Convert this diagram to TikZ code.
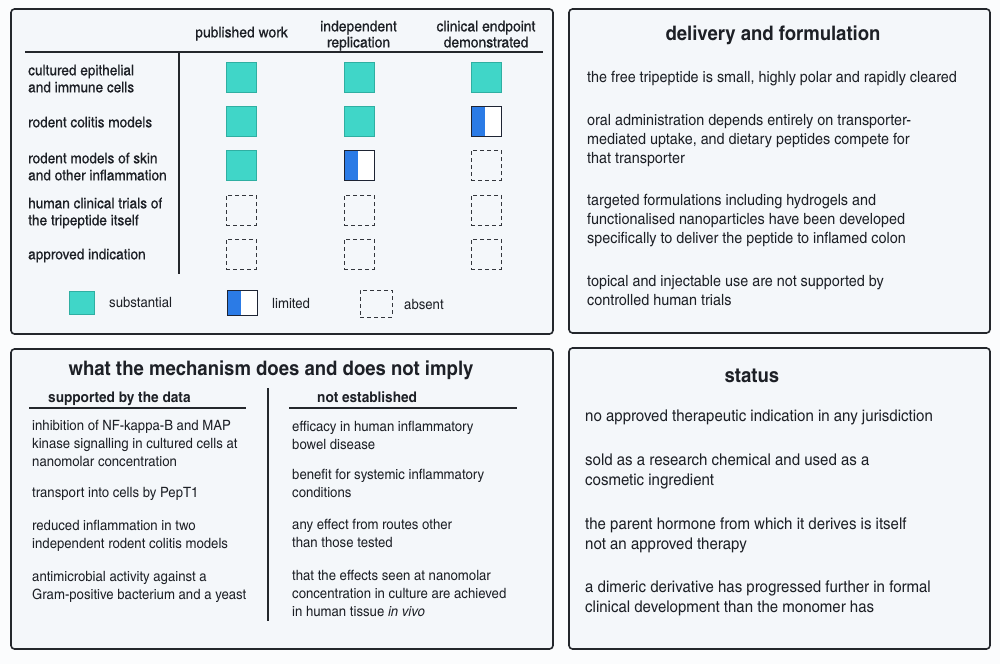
\documentclass[tikz,border=0pt]{standalone}
\usepackage{fontspec}
\setmainfont{texgyreheroscn}[Extension=.otf,UprightFont=*-regular,BoldFont=*-bold,ItalicFont=*-italic,BoldItalicFont=*-bolditalic,FakeStretch=1.13]
\newfontfamily\medfont{texgyreheroscn}[Extension=.otf,UprightFont=*-regular,BoldFont=*-bold,FakeStretch=1.13,FakeBold=0.6]
\usetikzlibrary{calc}
\definecolor{panelfill}{HTML}{F4F7FA}
\definecolor{pagebg}{HTML}{FBFCFD}
\definecolor{panelline}{HTML}{24272C}
\definecolor{txtcol}{HTML}{1D2026}
\definecolor{subfill}{HTML}{40D6C8}
\definecolor{subline}{HTML}{2FAFA2}
\definecolor{limblue}{HTML}{2B7BE6}
\definecolor{limline}{HTML}{1E2433}
\definecolor{absline}{HTML}{33363C}
\tikzset{
  panel/.style={draw=panelline, line width=1.6pt, fill=panelfill, rounded corners=3.5pt},
  rulel/.style={draw=panelline, line width=1.1pt},
  subbox/.style={draw=subline, fill=subfill, line width=0.8pt, minimum width=30pt, minimum height=30pt, inner sep=0pt},
  limbox/.style={draw=limline, fill=white, line width=1pt, minimum width=30pt, minimum height=30pt, inner sep=0pt,
    path picture={\fill[limblue] (path picture bounding box.south west) rectangle ($(path picture bounding box.north west)!0.45!(path picture bounding box.north east)$);}},
  absbox/.style={draw=absline, line width=1pt, dash pattern=on 4pt off 3pt, minimum width=30pt, minimum height=30pt, inner sep=0pt},
  bodyA/.style={font=\fontsize{15.5}{19}\selectfont, align=left, anchor=north west, inner sep=0pt, text=txtcol},
  bodyB/.style={font=\fontsize{16.2}{20.5}\selectfont, align=left, anchor=north west, inner sep=0pt, text=txtcol},
  bodyC/.style={font=\fontsize{14.2}{17.7}\selectfont, align=left, anchor=north west, inner sep=0pt, text=txtcol},
  rowlab/.style={font=\medfont\fontsize{14.7}{17}\selectfont, align=left, anchor=north west, inner sep=0pt, text=txtcol},
  colhead/.style={font=\medfont\fontsize{15}{16}\selectfont, align=center, anchor=north, inner sep=0pt, text=txtcol},
  titl/.style={font=\bfseries\fontsize{20}{24}\selectfont, anchor=base, inner sep=0pt, text=txtcol},
  subhead/.style={font=\bfseries\fontsize{14.7}{18}\selectfont, anchor=base west, inner sep=0pt, text=txtcol},
  legtext/.style={font=\fontsize{14.2}{16}\selectfont, anchor=base west, inner sep=0pt, text=txtcol},
}
\begin{document}
\begin{tikzpicture}[x=1pt,y=-1pt]
\useasboundingbox[fill=pagebg] (0,0) rectangle (1000,664);
% panels
\draw[panel] (11,9) rectangle (553,334);
\draw[panel] (569,9) rectangle (990,333);
\draw[panel] (11,349) rectangle (553,649);
\draw[panel] (569,348) rectangle (990,649);

% ---- table panel ----
\node[colhead] (h1) at (241.5,26) {\strut published work};
\node[colhead] (h2) at (358.5,20) {\strut independent\\replication};
\node[colhead] (h3) at (486,20) {\strut clinical endpoint\\demonstrated};
\draw[rulel] (25,52) -- (543,52);
\draw[rulel] (179,52) -- (179,274);

\node[rowlab] (r1) at (28,63.2) {\strut cultured epithelial\\and immune cells};
\node[rowlab] (r2) at (28,115.2) {\strut rodent colitis models};
\node[rowlab] (r3) at (28,151.2) {\strut rodent models of skin\\and other inflammation};
\node[rowlab] (r4) at (28,196.2) {\strut human clinical trials of\\the tripeptide itself};
\node[rowlab] (r5) at (28,247.2) {\strut approved indication};

\node[subbox] (c11) at (241,77) {};
\node[subbox] (c12) at (359,77) {};
\node[subbox] (c13) at (486,77) {};
\node[subbox] (c21) at (241,121) {};
\node[subbox] (c22) at (359,121) {};
\node[limbox] (c23) at (486,121) {};
\node[subbox] (c31) at (241,165) {};
\node[limbox] (c32) at (359,165) {};
\node[absbox] (c33) at (486,165) {};
\node[absbox] (c41) at (241,210) {};
\node[absbox] (c42) at (359,210) {};
\node[absbox] (c43) at (486,210) {};
\node[absbox] (c51) at (241,254) {};
\node[absbox] (c52) at (359,254) {};
\node[absbox] (c53) at (486,254) {};

% legend
\node[subbox, minimum width=25pt, minimum height=23pt] (l1) at (81.5,302.5) {};
\node[legtext] (l1t) at (109,307.4) {substantial};
\node[limbox, minimum width=30pt, minimum height=25pt] (l2) at (242,302.5) {};
\node[legtext] (l2t) at (272,308.2) {limited};
\node[absbox, minimum width=32pt, minimum height=27pt] (l3) at (376,303.5) {};
\node[legtext] (l3t) at (404,309.2) {absent};

% ---- delivery panel ----
\node[titl] (t1) at (773,40) {delivery and formulation};
\node[bodyA] (d1) at (587,68.9) {\strut the free tripeptide is small, highly polar and rapidly cleared};
\node[bodyA] (d2) at (587,112) {\strut oral administration depends entirely on transporter-\\mediated uptake, and dietary peptides compete for\\that transporter};
\node[bodyA] (d3) at (587,192) {\strut targeted formulations including hydrogels and\\functionalised nanoparticles have been developed\\specifically to deliver the peptide to inflamed colon};
\node[bodyA] (d4) at (587,273) {\strut topical and injectable use are not supported by\\controlled human trials};

% ---- mechanism panel ----
\node[titl] (t2) at (271,375) {what the mechanism does and does not imply};
\node[subhead] (s1) at (48,402.5) {supported by the data};
\node[subhead] (s2) at (317,402.5) {not established};
\draw[rulel] (29,408) -- (246,408);
\draw[rulel] (289,408) -- (517,408);
\draw[rulel] (268,388) -- (268,621);
\node[bodyC] (m1) at (32,418.2) {\strut inhibition of NF-kappa-B and MAP\\kinase signalling in cultured cells at\\nanomolar concentration};
\node[bodyC] (m2) at (32,485.2) {\strut transport into cells by PepT1};
\node[bodyC] (m3) at (32,518.4) {\strut reduced inflammation in two\\independent rodent colitis models};
\node[bodyC] (m4) at (32,569.2) {\strut antimicrobial activity against a\\Gram-positive bacterium and a yeast};
\node[bodyC] (n1) at (292,419) {\strut efficacy in human inflammatory\\bowel disease};
\node[bodyC] (n2) at (292,467.2) {\strut benefit for systemic inflammatory\\conditions};
\node[bodyC] (n3) at (292,517.3) {\strut any effect from routes other\\than those tested};
\node[bodyC] (n4) at (292,568.2) {\strut that the effects seen at nanomolar\\concentration in culture are achieved\\in human tissue \textit{in vivo}};

% ---- status panel ----
\node[titl] (t3) at (752,382) {status};
\node[bodyB] (p1) at (585,406.8) {\strut no approved therapeutic indication in any jurisdiction};
\node[bodyB] (p2) at (585,450.8) {\strut sold as a research chemical and used as a\\cosmetic ingredient};
\node[bodyB] (p3) at (585,514.8) {\strut the parent hormone from which it derives is itself\\not an approved therapy};
\node[bodyB] (p4) at (585,577.8) {\strut a dimeric derivative has progressed further in formal\\clinical development than the monomer has};
\end{tikzpicture}
\end{document}
